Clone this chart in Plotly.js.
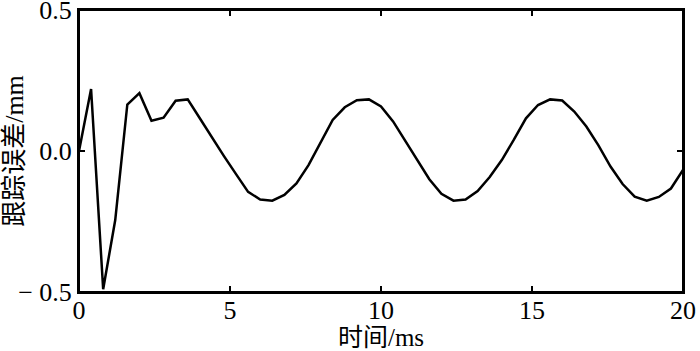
<!DOCTYPE html>
<html>
<head>
<meta charset="utf-8">
<script src="https://cdn.plot.ly/plotly-3.0.1.min.js"></script>
<style>html,body{margin:0;padding:0;background:#fff;}#chart{width:700px;height:351px;}</style>
</head>
<body>
<div id="chart"></div>
<script>
const timeMs = [0,0.4,0.8,1.2,1.6,2.0,2.4,2.8,3.2,3.6,4.0,4.4,4.8,5.2,5.6,6.0,6.4,6.8,7.2,7.6,8.0,8.4,8.8,9.2,9.6,10.0,10.4,10.8,11.2,11.6,12.0,12.4,12.8,13.2,13.6,14.0,14.4,14.8,15.2,15.6,16.0,16.4,16.8,17.2,17.6,18.0,18.4,18.8,19.2,19.6,20.0];
const trackingError = [0.0,0.22,-0.49,-0.245,0.165,0.205,0.107,0.118,0.178,0.183,0.116,0.047,-0.018,-0.082,-0.145,-0.172,-0.176,-0.156,-0.115,-0.05,0.03,0.11,0.155,0.18,0.183,0.158,0.105,0.038,-0.03,-0.1,-0.152,-0.176,-0.172,-0.142,-0.092,-0.032,0.04,0.116,0.163,0.183,0.179,0.14,0.087,0.02,-0.055,-0.117,-0.162,-0.176,-0.163,-0.133,-0.067];
const xTicks = [0,5,10,15,20];
const yTicks = [-0.5,0,0.5];
const yTickText = ['\u2212 0.5','0.0','0.5'];
const xTitle = '时间/ms';
const yTitle = '跟踪误差/mm';

const fontFam = '"Liberation Serif", "Times New Roman", "Noto Sans CJK SC", serif';
const data = [{
  x: timeMs, y: trackingError, type: 'scatter', mode: 'lines',
  line: {color: '#000', width: 2.5}, hoverinfo: 'skip', cliponaxis: false
}];
const axisCommon = {
  showline: true, linecolor: '#000', linewidth: 2, mirror: 'allticks',
  ticks: 'inside', ticklen: 6, tickwidth: 1.5, tickcolor: '#000',
  showgrid: false, zeroline: false, ticklabeloverflow: 'allow',
  tickfont: {family: fontFam, size: 26, color: '#000'}
};
const layout = {
  width: 700, height: 351,
  margin: {l: 79, r: 17, t: 10, b: 59},
  paper_bgcolor: '#fff', plot_bgcolor: '#fff',
  showlegend: false,
  xaxis: Object.assign({}, axisCommon, {
    range: [0, 20], tickvals: xTicks, ticktext: xTicks.map(String),
    ticklabelstandoff: -6,
    title: {text: xTitle, font: {family: fontFam, size: 25, color: '#000'}, standoff: 8}
  }),
  yaxis: Object.assign({}, axisCommon, {
    range: [-0.5, 0.5], tickvals: yTicks, ticktext: yTickText,
    title: {text: yTitle, font: {family: fontFam, size: 26, color: '#000'}, standoff: 0}
  }),
  shapes: [{type: 'rect', xref: 'paper', yref: 'paper', x0: 0, x1: 1, y0: 0, y1: 1,
            line: {color: '#000', width: 2}, layer: 'above'}]
};
Plotly.newPlot('chart', data, layout, {staticPlot: true, displayModeBar: false});
</script>
</body>
</html>
